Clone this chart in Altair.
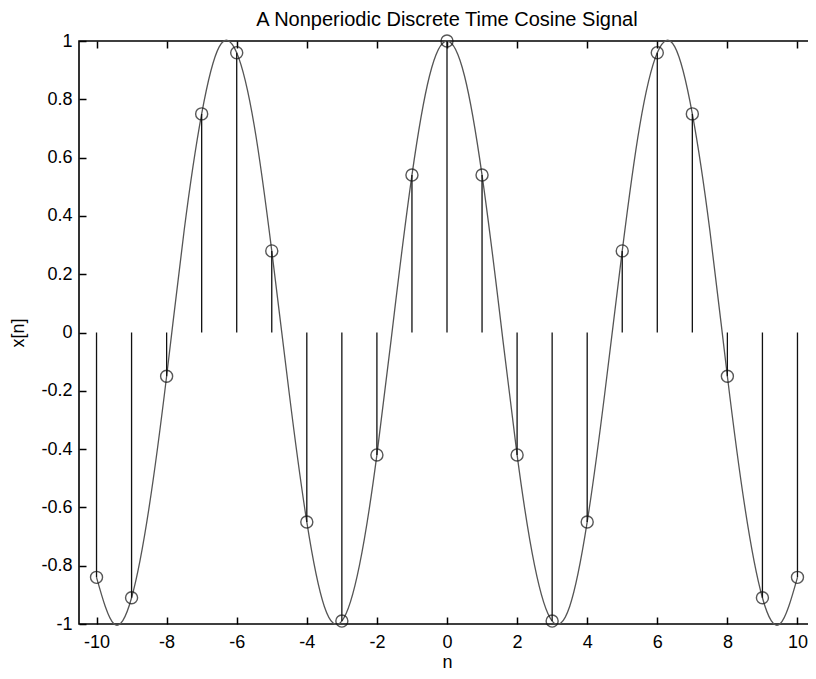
import altair as alt
import pandas as pd

# Discrete samples
n_vals = [-10, -9, -8, -7, -6, -5, -4, -3, -2, -1, 0, 1, 2, 3, 4, 5, 6, 7, 8, 9, 10]
xn_vals = [-0.84, -0.91, -0.15, 0.75, 0.96, 0.28, -0.65, -0.99, -0.42, 0.54, 1.0,
           0.54, -0.42, -0.99, -0.65, 0.28, 0.96, 0.75, -0.15, -0.91, -0.84]

# Continuous curve read at half-unit steps
t_vals = [-10, -9.5, -9, -8.5, -8, -7.5, -7, -6.5, -6, -5.5, -5, -4.5, -4, -3.5, -3,
          -2.5, -2, -1.5, -1, -0.5, 0, 0.5, 1, 1.5, 2, 2.5, 3, 3.5, 4, 4.5, 5, 5.5,
          6, 6.5, 7, 7.5, 8, 8.5, 9, 9.5, 10]
curve_vals = [-0.84, -1.0, -0.91, -0.60, -0.15, 0.35, 0.75, 0.98, 0.96, 0.71, 0.28,
              -0.21, -0.65, -0.94, -0.99, -0.80, -0.42, 0.07, 0.54, 0.88, 1.0, 0.88,
              0.54, 0.07, -0.42, -0.80, -0.99, -0.94, -0.65, -0.21, 0.28, 0.71, 0.96,
              0.98, 0.75, 0.35, -0.15, -0.60, -0.91, -1.0, -0.84]

x_ticks = [-10, -8, -6, -4, -2, 0, 2, 4, 6, 8, 10]
y_ticks = [-1, -0.8, -0.6, -0.4, -0.2, 0, 0.2, 0.4, 0.6, 0.8, 1]

stems = pd.DataFrame({"n": n_vals, "xn": xn_vals, "zero": [0] * len(n_vals)})
curve = pd.DataFrame({"t": t_vals, "v": curve_vals})

FONT = "Liberation Sans"
xs = alt.Scale(domain=[-10.5, 10.5], nice=False, zero=False)
ys = alt.Scale(domain=[-1, 1], nice=False, zero=False)
TICK = 7

common = dict(labelFont=FONT, titleFont=FONT, labelFontSize=18, titleFontSize=18,
              titleFontWeight="normal", labelColor="black", titleColor="black",
              tickColor="black", tickWidth=1.5, domain=False, grid=False,
              offset=-TICK, tickSize=TICK)

curve_layer = alt.Chart(curve).mark_line(
    color="#555555", strokeWidth=1.3, interpolate="natural"
).encode(
    x=alt.X("t:Q", scale=xs, axis=alt.Axis(
        orient="bottom", values=x_ticks, labelPadding=9,
        labelExpr="toString(datum.value)", title="n", titlePadding=2, **common)),
    y=alt.Y("v:Q", scale=ys, axis=alt.Axis(
        orient="left", values=y_ticks, labelPadding=7,
        labelExpr="toString(round(datum.value*10)/10)",
        title="x[n]", titlePadding=13, **common)),
)

stem_layer = alt.Chart(stems).mark_rule(color="#111111", strokeWidth=1.3).encode(
    x=alt.X("n:Q", scale=xs, axis=alt.Axis(
        orient="top", values=x_ticks, labels=False, title=None, **common)),
    y=alt.Y("zero:Q", scale=ys, axis=alt.Axis(
        orient="right", values=y_ticks, labels=False, title=None, **common)),
    y2="xn:Q",
)

point_layer = alt.Chart(stems).mark_point(
    shape="circle", filled=False, color="#111111", size=145, strokeWidth=1.4
).encode(
    x=alt.X("n:Q", scale=xs, axis=None),
    y=alt.Y("xn:Q", scale=ys, axis=None),
)

chart = alt.layer(curve_layer, stem_layer, point_layer).resolve_scale(
    x="independent", y="independent"
).properties(
    width=736, height=583,
    title=alt.TitleParams("A Nonperiodic Discrete Time Cosine Signal", fontSize=20,
                          fontWeight="normal", font=FONT, color="black", offset=2),
    autosize=alt.AutoSizeParams(type="none"),
    padding={"left": 71, "top": 33, "right": -7, "bottom": 47},
    background="white",
).configure_view(
    stroke="black", strokeWidth=1.6
)

chart.save("out.html", embed_options={"renderer": "svg", "actions": False})
